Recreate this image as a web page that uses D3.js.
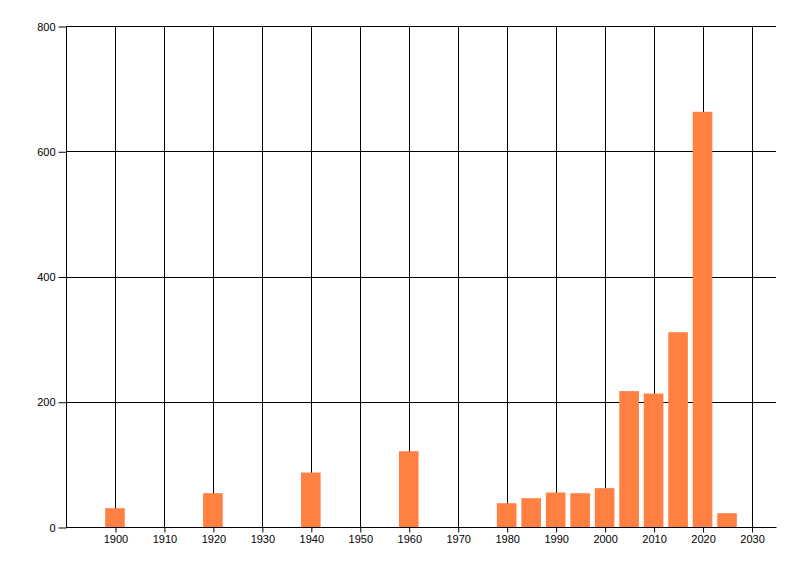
<!DOCTYPE html>
<html>
<head>
<meta charset="utf-8">
<script src="https://cdn.jsdelivr.net/npm/d3@7"></script>
<style>
  html, body { margin: 0; padding: 0; background: #fff; }
  svg { display: block; }
  text { font-family: "Liberation Sans", Arial, sans-serif; font-size: 11px; fill: #000; }
</style>
</head>
<body>
<svg id="chart" width="800" height="576"></svg>
<script>
const years  = [1900, 1920, 1940, 1960, 1980, 1985, 1990, 1995, 2000, 2005, 2010, 2015, 2020, 2025];
const values = [30, 54, 87, 121, 38, 46, 55, 54, 62, 217, 213, 311, 663, 22];
const xTicks = [1900, 1910, 1920, 1930, 1940, 1950, 1960, 1970, 1980, 1990, 2000, 2010, 2020, 2030];
const yTicks = [0, 200, 400, 600, 800];

const svg = d3.select("#chart");
const plotLeft = 66, plotRight = 776, plotTop = 26, plotBottom = 527;

const x = d3.scaleLinear().domain([1890, 2035]).range([plotLeft, plotRight]);
const y = d3.scaleLinear().domain([0, 800]).range([plotBottom, plotTop]);
const barYears = 4;

// vertical grid lines
svg.append("g").selectAll("line").data(xTicks).join("line")
  .attr("x1", d => Math.round(x(d)) + 0.5).attr("x2", d => Math.round(x(d)) + 0.5)
  .attr("y1", plotTop).attr("y2", plotBottom)
  .attr("stroke", "#000").attr("stroke-width", 1);

// horizontal grid lines
svg.append("g").selectAll("line").data(yTicks).join("line")
  .attr("x1", plotLeft).attr("x2", plotRight)
  .attr("y1", d => Math.round(y(d)) + 0.5).attr("y2", d => Math.round(y(d)) + 0.5)
  .attr("stroke", "#000").attr("stroke-width", 1);

// bars
svg.append("g").selectAll("rect").data(years).join("rect")
  .attr("x", (d) => x(d - barYears / 2))
  .attr("width", (d) => x(d + barYears / 2) - x(d - barYears / 2))
  .attr("y", (d, i) => y(values[i]))
  .attr("height", (d, i) => y(0) - y(values[i]))
  .attr("fill", "#ff8040");

// y axis
const yAxis = d3.axisLeft(y).tickValues(yTicks).tickSize(8).tickPadding(3).tickFormat(d3.format("d"));
svg.append("g").attr("transform", `translate(${plotLeft + 0.5},0.5)`).call(yAxis)
  .call(g => g.select(".domain").attr("d", `M0,${plotTop}V${plotBottom}`).attr("stroke", "#000"))
  .call(g => g.selectAll("text").style("font-family", "Liberation Sans, Arial, sans-serif").style("font-size", "11px"));

// x axis
const xAxis = d3.axisBottom(x).tickValues(xTicks).tickSize(5).tickPadding(3).tickFormat(d3.format("d"));
svg.append("g").attr("transform", `translate(0.5,${plotBottom + 0.5})`).call(xAxis)
  .call(g => g.select(".domain").attr("d", `M${plotLeft},0H${plotRight}`).attr("stroke", "#000"))
  .call(g => g.selectAll("text").style("font-family", "Liberation Sans, Arial, sans-serif").style("font-size", "11px"));
</script>
</body>
</html>
